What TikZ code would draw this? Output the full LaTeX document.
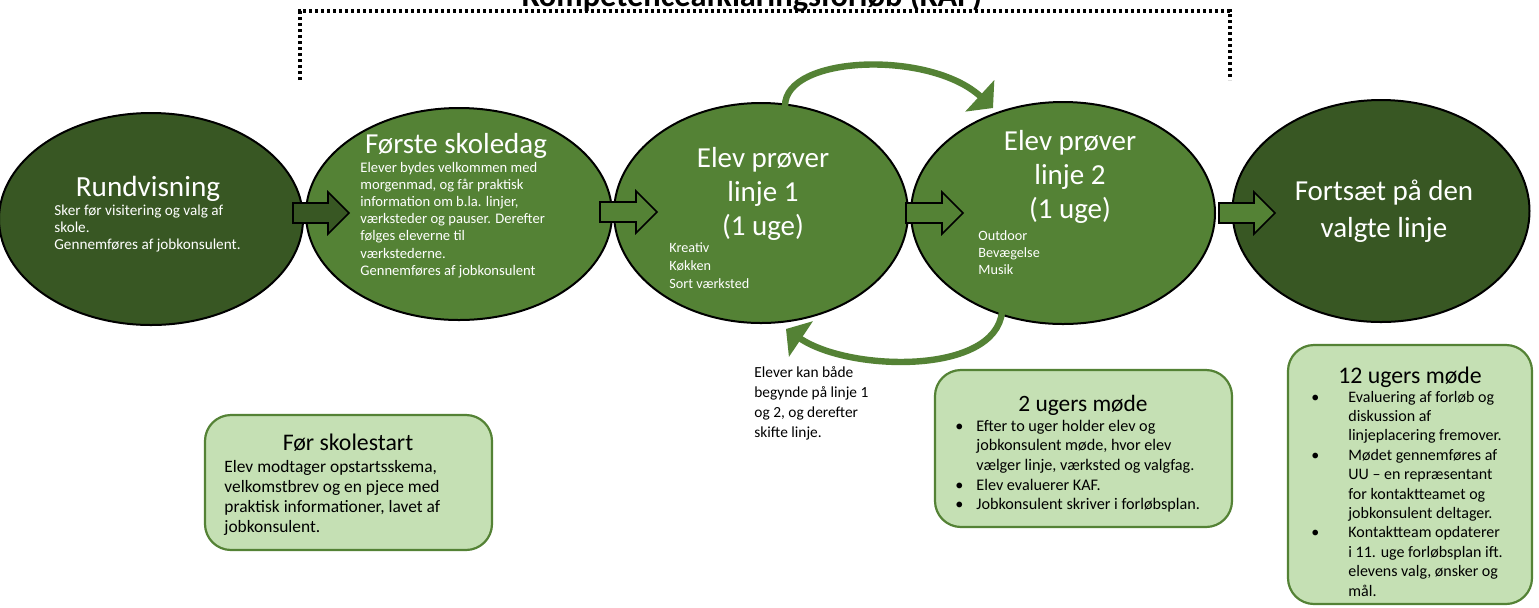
\documentclass[tikz,border=0pt]{standalone}
\usepackage{fontspec}
\setmainfont{Carlito}
\usetikzlibrary{arrows.meta,shapes.geometric}
\definecolor{dkg}{HTML}{385723}
\definecolor{mdg}{HTML}{548235}
\definecolor{lgf}{HTML}{C5E0B4}
\definecolor{lnk}{HTML}{6A9A45}
\newcommand\fs[2]{\fontsize{#1}{#2}\selectfont}
\newcommand\blkarrow[5]{\draw[line width=0.8pt, draw=black, fill=#5]
  (#1,#4-10) -- (#2,#4-10) -- (#2,#4-21) -- (#3,#4) -- (#2,#4+21) -- (#2,#4+10) -- (#1,#4+10) -- cycle;}
\pgfdeclarelayer{bg}
\pgfsetlayers{bg,main}
\begin{document}
\begin{tikzpicture}[x=0.5pt,y=-0.5pt,
  ell/.style={ellipse, draw=black, line width=1pt, inner sep=0pt},
  boxn/.style={rectangle, rounded corners=13pt, draw=mdg, line width=1.1pt, fill=lgf, inner sep=0pt},
  wt/.style={inner sep=0pt, text=white},
  bt/.style={inner sep=0pt, text=black},
  conn/.style={draw=lnk, line width=0.8pt},
  curv/.style={draw=mdg, line width=3.2pt, -{Triangle[width=21pt,length=9pt]}},
  brk/.style={draw=black, line width=2pt, dash pattern=on 1.6pt off 1.4pt}]
\useasboundingbox (0,0) rectangle (1539,607);
\fill[white] (0,0) rectangle (1539,607);

% dotted bracket and title
\coordinate (bl) at (300,80);
\coordinate (tl) at (300,11);
\coordinate (tr) at (1230,11);
\coordinate (br) at (1230,80);
\draw[brk] (bl) -- (tl) -- (tr) -- (br);
\node[bt, anchor=base, font=\bfseries\fs{16.2}{19}] (kaf) at (752,6) {Kompetenceafklaringsforløb (KAF)};

% ellipses
\node[ell, fill=dkg, minimum width=152pt, minimum height=106pt] (e1) at (151,219) {};
\node[ell, fill=mdg, minimum width=153pt, minimum height=106pt] (e2) at (459,214) {};
\node[ell, fill=mdg, minimum width=147pt, minimum height=110pt] (e3) at (761,213) {};
\node[ell, fill=mdg, minimum width=152pt, minimum height=111pt] (e4) at (1063,213) {};
\node[ell, fill=dkg, minimum width=148.5pt, minimum height=111pt] (e5) at (1381,211) {};

% block arrows
\blkarrow{293}{328}{349}{213}{dkg}
\blkarrow{600}{636}{657}{212}{mdg}
\blkarrow{906}{942}{963}{213}{mdg}
\blkarrow{1219}{1254}{1275}{213}{mdg}

% curved arrows
\coordinate (ca1) at (785,106);
\coordinate (ca2) at (993,108);
\draw[curv] (ca1) .. controls (785,55) and (930,50) .. (ca2);
\coordinate (cb1) at (1002,312);
\coordinate (cb2) at (786,329);
\draw[curv] (cb1) .. controls (995,375) and (850,372) .. (cb2);

% ellipse texts
\node[wt, anchor=base, font=\fs{14.6}{17}] (t1) at (148,196) {Rundvisning};
\node[wt, anchor=base west, font=\fs{7.6}{8.5}] (d1) at (54,215) {\begin{tabular}[t]{@{}l@{}}Sker før visitering og valg af\\skole.\\Gennemføres af jobkonsulent.\end{tabular}};

\node[wt, anchor=base, font=\fs{14.5}{17}] (t2) at (456,153) {Første skoledag};
\node[wt, anchor=base west, font=\fs{7.3}{8.6}] (d2) at (360,172) {\begin{tabular}[t]{@{}l@{}}Elever bydes velkommen med\\morgenmad, og får praktisk\\information om b.la. linjer,\\værksteder og pauser. Derefter\\følges eleverne til\\værkstederne.\\Gennemføres af jobkonsulent\end{tabular}};

\node[wt, anchor=base, font=\fs{14.5}{17}] (t3) at (763,167) {\begin{tabular}[t]{@{}c@{}}Elev prøver\\linje 1\\(1 uge)\end{tabular}};
\node[wt, anchor=base west, font=\fs{7.1}{9}] (d3) at (669,252) {\begin{tabular}[t]{@{}l@{}}Kreativ\\Køkken\\Sort værksted\end{tabular}};

\node[wt, anchor=base, font=\fs{14.5}{17}] (t4) at (1070,150) {\begin{tabular}[t]{@{}c@{}}Elev prøver\\linje 2\\(1 uge)\end{tabular}};
\node[wt, anchor=base west, font=\fs{7.1}{8.5}] (d4) at (978,240) {\begin{tabular}[t]{@{}l@{}}Outdoor\\Bevægelse\\Musik\end{tabular}};

\node[wt, anchor=base, font=\fs{14.5}{18.5}] (t5) at (1384,200) {\begin{tabular}[t]{@{}c@{}}Fortsæt på den\\valgte linje\end{tabular}};

% boxes
\node[boxn, minimum width=143.5pt, minimum height=67.5pt] (b1) at (348.5,482.5) {};
\node[boxn, minimum width=148.5pt, minimum height=78.5pt] (b2) at (1083.5,448.5) {};
\node[boxn, minimum width=122pt, minimum height=129.5pt] (b3) at (1410,474.5) {};

% connectors (behind)
\begin{pgfonlayer}{bg}
\coordinate (c1) at (308,213);
\draw[conn] (c1) -- (c1 |- b1.center);
\coordinate (c2) at (1217,213);
\draw[conn] (c2) -- (c2 |- b2.center);
\coordinate (c3) at (1527,211);
\draw[conn] (c3) -- (c3 |- b3.center);
\end{pgfonlayer}

% box texts
\node[bt, anchor=base, font=\fs{11.9}{14}] (h1) at (348,450) {Før skolestart};
\node[bt, anchor=base west, font=\fs{8.7}{10.15}] (p1) at (224,472) {\begin{tabular}[t]{@{}l@{}}Elev modtager opstartsskema,\\velkomstbrev og en pjece med\\praktisk informationer, lavet af\\jobkonsulent.\end{tabular}};

\node[bt, anchor=base, font=\fs{11.7}{14}] (h2) at (1083,411) {2 ugers møde};
\node[bt, anchor=base west, font=\fs{8.1}{9.85}] (p2) at (955,431) {\begin{tabular}[t]{@{}p{10.5pt}@{}l@{}}•&Efter to uger holder elev og\\&jobkonsulent møde, hvor elev\\&vælger linje, værksted og valgfag.\\•&Elev evaluerer KAF.\\•&Jobkonsulent skriver i forløbsplan.\end{tabular}};

\node[bt, anchor=base, font=\fs{11.9}{14}] (h3) at (1410,383) {12 ugers møde};
\node[bt, anchor=base west, font=\fs{8}{9.7}] (p3) at (1311,402) {\begin{tabular}[t]{@{}p{18.5pt}@{}l@{}}•&Evaluering af forløb og\\&diskussion af\\&linjeplacering fremover.\\•&Mødet gennemføres af\\&UU – en repræsentant\\&for kontaktteamet og\\&jobkonsulent deltager.\\•&Kontaktteam opdaterer\\&i 11. uge forløbsplan ift.\\&elevens valg, ønsker og\\&mål.\end{tabular}};

% note
\node[bt, anchor=base west, font=\fs{7.7}{10}] (nt) at (754,377) {\begin{tabular}[t]{@{}l@{}}Elever kan både\\begynde på linje 1\\og 2, og derefter\\skifte linje.\end{tabular}};
\end{tikzpicture}
\end{document}
